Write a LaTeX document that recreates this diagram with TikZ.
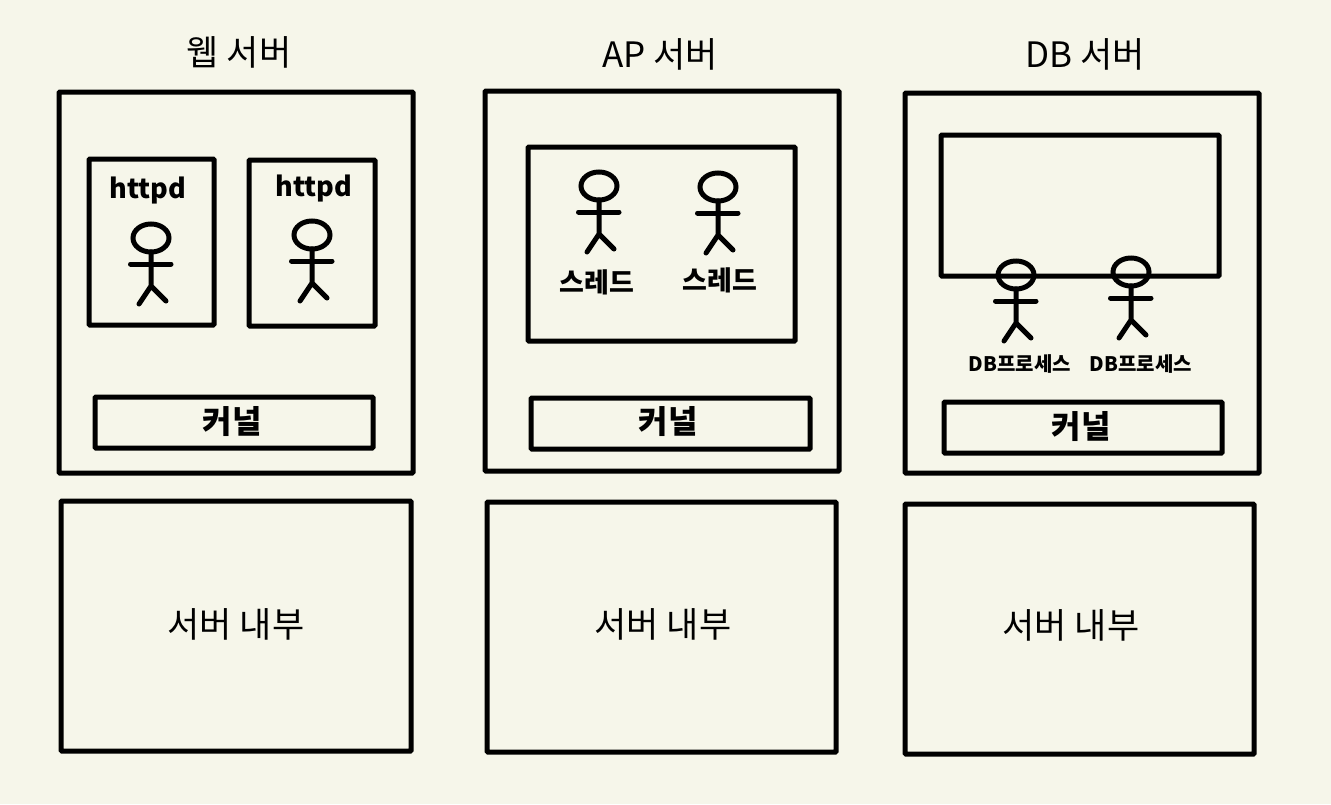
\documentclass[tikz,border=0pt]{standalone}
\usepackage{fontspec}
\setmainfont{Noto Sans CJK KR}
\definecolor{paper}{HTML}{F6F6EA}
\tikzset{
  x=1pt,y=-1pt,
  box/.style={draw=black,line width=5pt,rounded corners=0.8pt,inner sep=0pt,anchor=center},
  title/.style={font=\fontsize{35}{40}\selectfont,inner sep=0pt,anchor=center},
  hand/.style={font=\fontsize{#1}{#1}\selectfont\bfseries,inner sep=0pt,anchor=center},
  limb/.style={draw=black,line width=5pt,line cap=round},
  stick/.pic={
    \draw[limb] (0,0) ellipse [x radius=18pt,y radius=14pt];
    \draw[limb] (-20.5,26) -- (20,26);
    \draw[limb] (0,14) -- (0,48) (-12,66) -- (0,48) -- (15,63);
  }
}
\newcommand{\boxnode}[5]{\node[box,minimum width=#4-#2 pt,minimum height=#5-#3 pt] (#1) at ({(#2+#4)/2},{(#3+#5)/2}) {};}
\begin{document}
\begin{tikzpicture}
\fill[paper] (0,0) rectangle (1331,804);
\useasboundingbox (0,0) rectangle (1331,804);
% titles
\node[title] (t1) at (239,52) {웹 서버};
\node[title] (t2) at (660,54) {AP 서버};
\node[title] (t3) at (1085,54) {DB 서버};
% server frames
\boxnode{web}{59}{92}{413}{473}
\boxnode{ap}{485}{91}{839}{471}
\boxnode{db}{905}{93}{1259}{473}
% lower frames
\boxnode{webin}{61}{501}{411}{751}
\boxnode{apin}{487}{502}{836}{752}
\boxnode{dbin}{905}{504}{1254}{754}
\node[title] (l1) at (236,624) {서버 내부};
\node[title] (l2) at (663,624) {서버 내부};
\node[title] (l3) at (1071,625) {서버 내부};
% httpd
\boxnode{h1}{89}{159}{214}{325}
\boxnode{h2}{249}{160}{375}{326}
\node[hand=27] (h1t) at (148,191) {httpd};
\node[hand=27] (h2t) at (314,189) {httpd};
\pic at (151,238) {stick};
\pic at (312,235) {stick};
% kernel
\boxnode{k1}{95}{397}{373}{448}
\boxnode{k2}{531}{398}{810}{449}
\boxnode{k3}{944}{402}{1222}{453}
\node[hand=32] (k1t) at (232,422) {커널};
\node[hand=32] (k2t) at (668,422) {커널};
\node[hand=32] (k3t) at (1081,427) {커널};
% AP inner
\boxnode{proc}{528}{147}{795}{341}
\pic at (599,186) {stick};
\pic at (718,187) {stick};
\node[hand=27] (s1) at (597,282) {스레드};
\node[hand=27] (s2) at (720,280) {스레드};
% DB inner
\boxnode{shm}{941}{135}{1219}{276}
\pic at (1016,275) {stick};
\pic at (1131,272) {stick};
\node[hand=20] (d1) at (1020,364) {DB프로세스};
\node[hand=20] (d2) at (1141,364) {DB프로세스};
\end{tikzpicture}
\end{document}
